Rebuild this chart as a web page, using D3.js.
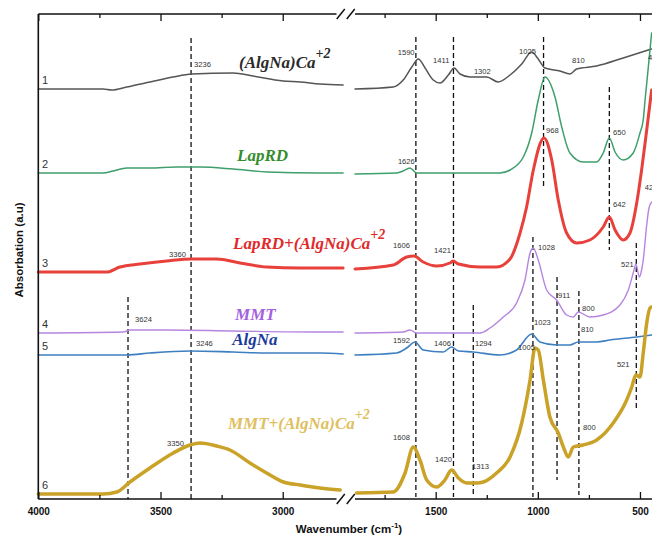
<!DOCTYPE html>
<html><head><meta charset="utf-8">
<script src="https://cdn.jsdelivr.net/npm/d3@7"></script>
<style>body{margin:0;background:#fff} svg{display:block;background:#fff}</style>
</head><body><svg id="c" width="652" height="536"></svg>
<script>
// ---------- DATA (wavenumber cm-1, absorbance a.u. incl. vertical offset) ----------
const seriesNames = ["(AlgNa)Ca", "LapRD", "LapRD+(AlgNa)Ca", "MMT", "AlgNa", "MMT+(AlgNa)Ca"];
const seriesSup   = ["+2", "", "+2", "", "", "+2"];
const seriesNumbers = ["1", "2", "3", "4", "5", "6"];

const curve1 = [[4000,410],[3735,410],[3700,409],[3638,412],[3543,417],[3449,422],[3372,425],[3203,426],[3122,423],[2999,418],[2929,417],[2847,415],[2753,414],
  [1895,410],[1708,412],[1659,419],[1617,432],[1585,440],[1552,431],[1512,419],[1479,416],[1438,424],[1410,431],[1381,425],[1332,422],[1250,422],[1194,417],[1136,424],[1079,435],[1030,447],[998,440],[965,431],[892,428],[843,425],[810,430],[712,433],[582,441],[443,450]];
const curve2 = [[4000,326],[3735,326],[3694,328],[3638,331],[3543,331],[3434,332],[3338,332],[3203,330],[3065,327],[2847,326],[2753,326],
  [1895,325],[1691,326],[1659,328],[1626,331],[1593,326],[1414,326],[1185,326],[1136,329],[1071,342],[1030,366],[998,399],[965,422],[916,402],[883,372],[843,346],[778,337],[712,337],[680,346],[650,361],[622,347],[582,339],[533,346],[500,366],[484,379],[475,399],[459,432],[443,466]];
const curve3 = [[4000,227],[3720,227],[3666,232],[3584,235],[3475,238],[3372,240],[3270,240],[3175,236],[3066,232],[2929,231],[2753,231],
  [1895,230],[1708,234],[1642,242],[1606,243],[1561,237],[1495,233],[1430,236],[1414,238],[1389,235],[1283,232],[1201,232],[1136,240],[1087,266],[1055,292],[1022,329],[970,361],[932,339],[900,299],[859,266],[810,256],[745,259],[680,272],[650,282],[622,269],[582,259],[549,266],[516,296],[492,329],[467,369],[443,409]];
const curve4 = [[4000,166],[3652,167],[3625,169],[3475,169],[3203,168],[2847,167],[2753,167],
  [1895,166],[1659,167],[1626,169],[1593,166],[1283,166],[1234,171],[1169,182],[1104,196],[1063,219],[1038,246],[1022,251],[998,239],[957,209],[908,199],[859,184],[826,182],[802,187],[745,182],[680,184],[598,194],[557,209],[533,226],[520,235],[503,222],[492,229],[484,239],[467,274],[456,291],[443,297]];
const curve5 = [[4000,144],[3638,144],[3543,146],[3379,148],[3203,147],[3066,146],[2847,146],[2753,145],
  [1895,144],[1691,146],[1642,151],[1601,157],[1561,149],[1463,147],[1422,152],[1389,148],[1316,147],[1185,144],[1104,149],[1030,165],[990,157],[908,154],[843,154],[802,157],[712,157],[647,159],[516,162],[443,164]];
const curve6 = [[4000,5],[3734,5],[3679,7],[3625,17],[3543,31],[3448,46],[3379,54],[3338,56],[3270,53],[3216,49],[3134,36],[3066,26],[2997,17],[2929,14],[2847,11],[2765,9],
  [1887,6],[1708,7],[1650,26],[1610,52],[1577,39],[1544,19],[1495,12],[1455,19],[1422,29],[1389,21],[1348,16],[1299,16],[1267,17],[1202,26],[1136,42],[1079,76],[1038,119],[1014,151],[998,149],[973,119],[941,82],[900,66],[875,52],[851,42],[826,52],[778,54],[712,59],[631,76],[565,99],[540,112],[520,124],[500,122],[484,146],[467,176],[451,191],[443,192]];
const curves = [curve1, curve2, curve3, curve4, curve5, curve6];

// label anchor (wavenumber, absorbance) for series names
const seriesLabelPos = [[3179,431],[3187,338],[3203,250],[3195,179],[3207,154],[3224,70]];

// peak annotations: text, wavenumber, absorbance
const peakLabels = [
  ["3236",3363,432],["1590",1686,444],["1411",1513,436],["1302",1313,425],["1025",1092,445],["810",833,436],["426",461,439],
  ["968",960,366],["650",632,364],["1626",1685,335],
  ["3360",3465,242],["1606",1709,251],["1421",1508,246],["642",632,292],["426",476,309],
  ["3624",3604,177],["1028",999,249],["521",593,232],["911",901,201],["800",784,188],
  ["3246",3355,153],["1592",1709,156],["1406",1508,153],["1294",1308,153],["1023",1019,174],["810",789,167],
  ["3350",3473,53],["1608",1709,59],["1420",1503,37],["1313",1322,30],["1005",1097,149],["521",613,132],["800",779,69]
];

// dashed reference lines: wavenumber, absorbance top, absorbance bottom
const dashLines = [
  [3375,461,0],[3633,202,0],
  [1597,462,2],[1413,462,2],[972,462,311],[650,412,249],
  [1316,194,2],[1024,262,2],[906,222,19],[799,208,4],[518,256,91]
];

const majorTicksLeft = [4000, 3500, 3000];
const minorTicksLeft = [3750, 3250];
const majorTicksRight = [1500, 1000, 500];
const minorTicksRight = [1750, 1250, 750];

// ---------- STYLE ----------
const lineColors  = ["#555555", "#3e9e6c", "#e8403a", "#b585e0", "#3d7fc1", "#c9a227"];
const lineWidths  = [1.5, 1.5, 3, 1.4, 1.6, 3.5];
const labelColors = ["#2a2a2a", "#348c2c", "#e02a2a", "#a262e0", "#1c3a9c", "#dfc060"];

// ---------- SCALES ----------
const svg = d3.select("#c");
const xL = d3.scaleLinear().domain([4000, 2780]).range([38.3, 336.5]);
const xR = d3.scaleLinear().domain([1895, 400]).range([355, 660.4]);
const y  = d3.scaleLinear().domain([0, 485]).range([499, 14]);
const xOf = w => (w >= 2000 ? xL(w) : xR(w));

// ---------- DASHED LINES ----------
svg.append("g").selectAll("line").data(dashLines).join("line")
  .attr("x1", d => xOf(d[0])).attr("x2", d => xOf(d[0]))
  .attr("y1", d => y(d[1])).attr("y2", d => y(d[2]))
  .attr("stroke", "#111").attr("stroke-width", 1.3).attr("stroke-dasharray", "5,3");

// ---------- CURVES ----------
const lineL = d3.line().x(d => xL(d[0])).y(d => y(d[1])).curve(d3.curveMonotoneX);
const lineR = d3.line().x(d => xR(d[0])).y(d => y(d[1])).curve(d3.curveMonotoneX);
curves.forEach((c, i) => {
  const left = c.filter(d => d[0] >= 2000), right = c.filter(d => d[0] < 2000);
  [[left, lineL], [right, lineR]].forEach(([pts, gen]) => {
    svg.append("path").attr("d", gen(pts)).attr("fill", "none")
      .attr("stroke", lineColors[i]).attr("stroke-width", lineWidths[i])
      .attr("stroke-linejoin", "round").attr("stroke-linecap", "round");
  });
  svg.append("text").attr("x", 42).attr("y", y(c[0][1]) - 5)
    .attr("font-family", "Liberation Sans, Arial, sans-serif").attr("font-size", 11)
    .attr("fill", "#333").text(seriesNumbers[i]);
});

// ---------- SERIES LABELS ----------
seriesNames.forEach((name, i) => {
  const p = seriesLabelPos[i];
  const t = svg.append("text").attr("x", xL(p[0])).attr("y", y(p[1]))
    .attr("font-family", "Liberation Serif, Times New Roman, serif")
    .attr("font-weight", "bold").attr("font-style", "italic")
    .attr("font-size", 17).attr("fill", labelColors[i]);
  t.append("tspan").text(name);
  if (seriesSup[i]) t.append("tspan").attr("dy", -10).attr("font-size", 14).text(seriesSup[i]);
});

// ---------- PEAK LABELS ----------
svg.append("g").selectAll("text").data(peakLabels).join("text")
  .attr("x", d => xOf(d[1])).attr("y", d => y(d[2]))
  .attr("font-family", "Liberation Sans, Arial, sans-serif").attr("font-size", 7.6)
  .attr("fill", "#333").text(d => d[0]);

// ---------- AXES ----------
function axes(scale, major, minor) {
  [[d3.axisBottom, 499, true], [d3.axisTop, 14, false]].forEach(([mk, yy, lab]) => {
    const gMaj = svg.append("g").attr("transform", `translate(0,${yy})`)
      .call(mk(scale).tickValues(major).tickSizeInner(-7).tickSizeOuter(0)
        .tickPadding(mk === d3.axisBottom ? 9 : 3).tickFormat(lab ? d3.format("d") : () => ""));
    gMaj.select(".domain").remove();
    gMaj.selectAll("line").attr("stroke", "#111").attr("stroke-width", 1.3);
    gMaj.selectAll("text").attr("font-family", "Liberation Sans, Arial, sans-serif")
      .attr("font-weight", "bold").attr("font-size", 10).attr("fill", "#111");
    const gMin = svg.append("g").attr("transform", `translate(0,${yy})`)
      .call(mk(scale).tickValues(minor).tickSizeInner(-4).tickSizeOuter(0).tickFormat(() => ""));
    gMin.select(".domain").remove();
    gMin.selectAll("line").attr("stroke", "#111").attr("stroke-width", 1.3);
  });
}
axes(xL, majorTicksLeft, minorTicksLeft);
axes(xR, majorTicksRight, minorTicksRight);

// frame lines
const frame = svg.append("g").attr("stroke", "#111").attr("stroke-width", 1.6);
[y(0), y(485)].forEach(yy => {
  frame.append("line").attr("x1", xL(4000)).attr("x2", xL(2780)).attr("y1", yy).attr("y2", yy);
  frame.append("line").attr("x1", xR(1895)).attr("x2", xR(400)).attr("y1", yy).attr("y2", yy);
});
frame.append("line").attr("x1", xL(4000)).attr("x2", xL(4000)).attr("y1", y(485)).attr("y2", y(0));

// break marks "//"
const bx1 = (xL(2780) + xR(1895)) / 2;
[y(485), y(0)].forEach(yy => {
  [-5, 5].forEach(off => {
    frame.append("line").attr("x1", bx1 + off - 4).attr("x2", bx1 + off + 4)
      .attr("y1", yy + 5).attr("y2", yy - 5).attr("stroke-width", 1.5);
  });
});

// axis titles
const xt = svg.append("text").attr("x", 349).attr("y", 533).attr("text-anchor", "middle")
  .attr("font-family", "Liberation Sans, Arial, sans-serif").attr("font-weight", "bold")
  .attr("font-size", 11.5).attr("fill", "#111");
xt.append("tspan").text("Wavenumber (cm");
xt.append("tspan").attr("dy", -5).attr("font-size", 8).text("-1");
xt.append("tspan").attr("dy", 5).text(")");

svg.append("text").attr("transform", "translate(23,250) rotate(-90)").attr("text-anchor", "middle")
  .attr("font-family", "Liberation Sans, Arial, sans-serif").attr("font-weight", "bold")
  .attr("font-size", 11.5).attr("fill", "#111").text("Absorbation (a.u)");
</script></body></html>
